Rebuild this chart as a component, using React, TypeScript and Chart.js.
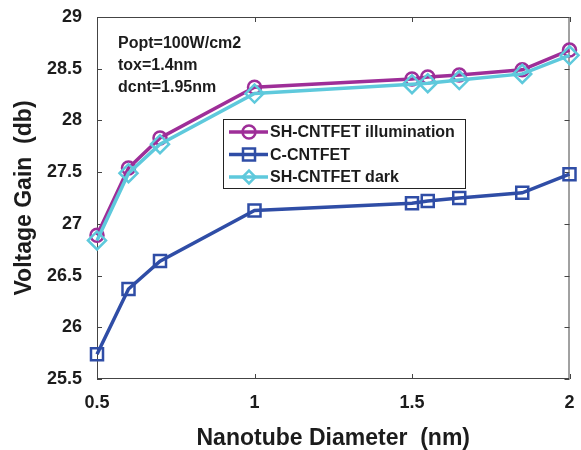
import React, { useEffect, useRef } from "react";
import { Chart, registerables } from "chart.js";

Chart.register(...registerables);

const diameters = [0.5, 0.6, 0.7, 1, 1.5, 1.55, 1.65, 1.85, 2];
const illumination = [26.89, 27.54, 27.83, 28.32, 28.4, 28.42, 28.44, 28.49, 28.68];
const conventional = [25.74, 26.37, 26.64, 27.13, 27.2, 27.22, 27.25, 27.3, 27.48];
const dark = [26.84, 27.49, 27.77, 28.26, 28.35, 28.36, 28.39, 28.45, 28.63];
const seriesNames = ["SH-CNTFET illumination", "C-CNTFET", "SH-CNTFET dark"];
const annotationLines = ["Popt=100W/cm2", "tox=1.4nm", "dcnt=1.95nm"];
const xTicks = [0.5, 1, 1.5, 2];
const yTicks = [25.5, 26, 26.5, 27, 27.5, 28, 28.5, 29];

const FONT = "'Liberation Sans', Arial, sans-serif";
const PURPLE = "#9E2E98";
const BLUE = "#2F4DA6";
const CYAN = "#5EC9DC";
const TEXT = "#1c1c1c";

const pointStyles = ["circle", "rect", "rectRot"];
const colors = [PURPLE, BLUE, CYAN];
const radii = [6.5, 8.5, 9];

function drawMarker(ctx: CanvasRenderingContext2D, style: string, x: number, y: number, r: number, color: string) {
  ctx.save();
  ctx.strokeStyle = color;
  ctx.lineWidth = 2.5;
  ctx.beginPath();
  if (style === "circle") {
    ctx.arc(x, y, r, 0, Math.PI * 2);
  } else if (style === "rect") {
    const s = Math.SQRT1_2 * r;
    ctx.rect(x - s, y - s, 2 * s, 2 * s);
  } else {
    const s = Math.SQRT1_2 * r;
    ctx.moveTo(x - s, y);
    ctx.lineTo(x, y + s);
    ctx.lineTo(x + s, y);
    ctx.lineTo(x, y - s);
    ctx.closePath();
  }
  ctx.stroke();
  ctx.restore();
}

const framePlugin = {
  id: "frame",
  beforeDatasetsDraw(chart: any) {
    const { ctx, chartArea: a, scales } = chart;
    ctx.save();
    ctx.strokeStyle = "#444";
    ctx.lineWidth = 1;
    ctx.strokeRect(a.left + 0.5, a.top + 0.5, a.right - a.left - 1, a.bottom - a.top - 1);
    const tl = 5;
    ctx.beginPath();
    xTicks.forEach((v) => {
      const px = Math.round(scales.x.getPixelForValue(v)) + 0.5;
      ctx.moveTo(px, a.bottom);
      ctx.lineTo(px, a.bottom - tl);
      ctx.moveTo(px, a.top);
      ctx.lineTo(px, a.top + tl);
    });
    yTicks.forEach((v) => {
      const py = Math.round(scales.y.getPixelForValue(v)) + 0.5;
      ctx.moveTo(a.left, py);
      ctx.lineTo(a.left + tl, py);
      ctx.moveTo(a.right, py);
      ctx.lineTo(a.right - tl, py);
    });
    ctx.stroke();
    ctx.restore();
  },
  afterDraw(chart: any) {
    const { ctx } = chart;
    ctx.save();
    // annotation
    ctx.fillStyle = TEXT;
    ctx.font = `bold 16px ${FONT}`;
    ctx.textBaseline = "middle";
    ctx.textAlign = "left";
    annotationLines.forEach((t, i) => ctx.fillText(t, 118, 44 + i * 22));
    // legend
    const bx = 223, by = 119, bw = 242, bh = 69;
    ctx.fillStyle = "#fff";
    ctx.fillRect(bx, by, bw, bh);
    ctx.strokeStyle = "#222";
    ctx.lineWidth = 1;
    ctx.strokeRect(bx + 0.5, by + 0.5, bw, bh);
    seriesNames.forEach((name, i) => {
      const y = 132 + i * 22.5;
      ctx.strokeStyle = colors[i];
      ctx.lineWidth = 3.5;
      ctx.beginPath();
      ctx.moveTo(229, y);
      ctx.lineTo(268, y);
      ctx.stroke();
      drawMarker(ctx, pointStyles[i], 249, y, radii[i], colors[i]);
      ctx.fillStyle = TEXT;
      ctx.font = `bold 16px ${FONT}`;
      ctx.fillText(name, 270, y + 1);
    });
    ctx.restore();
  },
};

export default function App() {
  const ref = useRef<HTMLCanvasElement | null>(null);
  useEffect(() => {
    document.body.style.margin = "0";
    const mk = (vals: number[]) => diameters.map((x, i) => ({ x, y: vals[i] }));
    const seriesVals = [illumination, conventional, dark];
    const chart = new Chart(ref.current as HTMLCanvasElement, {
      type: "line",
      data: {
        datasets: seriesVals.map((vals, i) => ({
          label: seriesNames[i],
          data: mk(vals),
          borderColor: colors[i],
          backgroundColor: "transparent",
          borderWidth: 3.5,
          pointStyle: pointStyles[i] as any,
          pointRadius: radii[i],
          pointBorderWidth: 2.5,
          pointBorderColor: colors[i],
          pointBackgroundColor: "transparent",
          tension: 0,
          clip: false as any,
          order: i === 2 ? 0 : i === 0 ? 2 : 1,
        })),
      },
      options: {
        responsive: false,
        animation: false,
        layout: { padding: { top: 17, right: 3, left: 0, bottom: 0 } },
        plugins: { legend: { display: false }, tooltip: { enabled: false } },
        scales: {
          x: {
            type: "linear",
            min: 0.5,
            max: 2,
            grid: { display: false },
            border: { display: false },
            afterBuildTicks: (s: any) => {
              s.ticks = xTicks.map((v) => ({ value: v }));
            },
            ticks: {
              color: TEXT,
              font: { family: FONT, size: 18, weight: "bold" },
              padding: 5,
              maxRotation: 0,
              callback: (v: any) => String(v),
            },
            title: {
              display: true,
              text: "Nanotube Diameter  (nm)",
              color: TEXT,
              font: { family: FONT, size: 23, weight: "bold", lineHeight: 1 },
              padding: { top: 0, bottom: 0 },
            },
            afterFit: (s: any) => {
              s.height = 71;
              s.paddingLeft = 0;
              s.paddingRight = 0;
            },
          },
          y: {
            type: "linear",
            min: 25.5,
            max: 29,
            grid: { display: false },
            border: { display: false },
            afterBuildTicks: (s: any) => {
              s.ticks = yTicks.map((v) => ({ value: v }));
            },
            ticks: {
              color: TEXT,
              font: { family: FONT, size: 18, weight: "bold" },
              padding: 7,
              callback: (v: any) => String(v),
            },
            title: {
              display: true,
              text: "Voltage Gain  (db)",
              color: TEXT,
              font: { family: FONT, size: 23, weight: "bold", lineHeight: 1 },
              padding: { top: 13, bottom: 0 },
            },
            afterFit: (s: any) => {
              s.width = 97;
              s.paddingTop = 0;
              s.paddingBottom = 0;
            },
          },
        },
      },
      plugins: [framePlugin],
    });
    return () => chart.destroy();
  }, []);
  return (
    <div style={{ width: 581, height: 450, background: "#fff" }}>
      <canvas ref={ref} width={581} height={450} />
    </div>
  );
}
